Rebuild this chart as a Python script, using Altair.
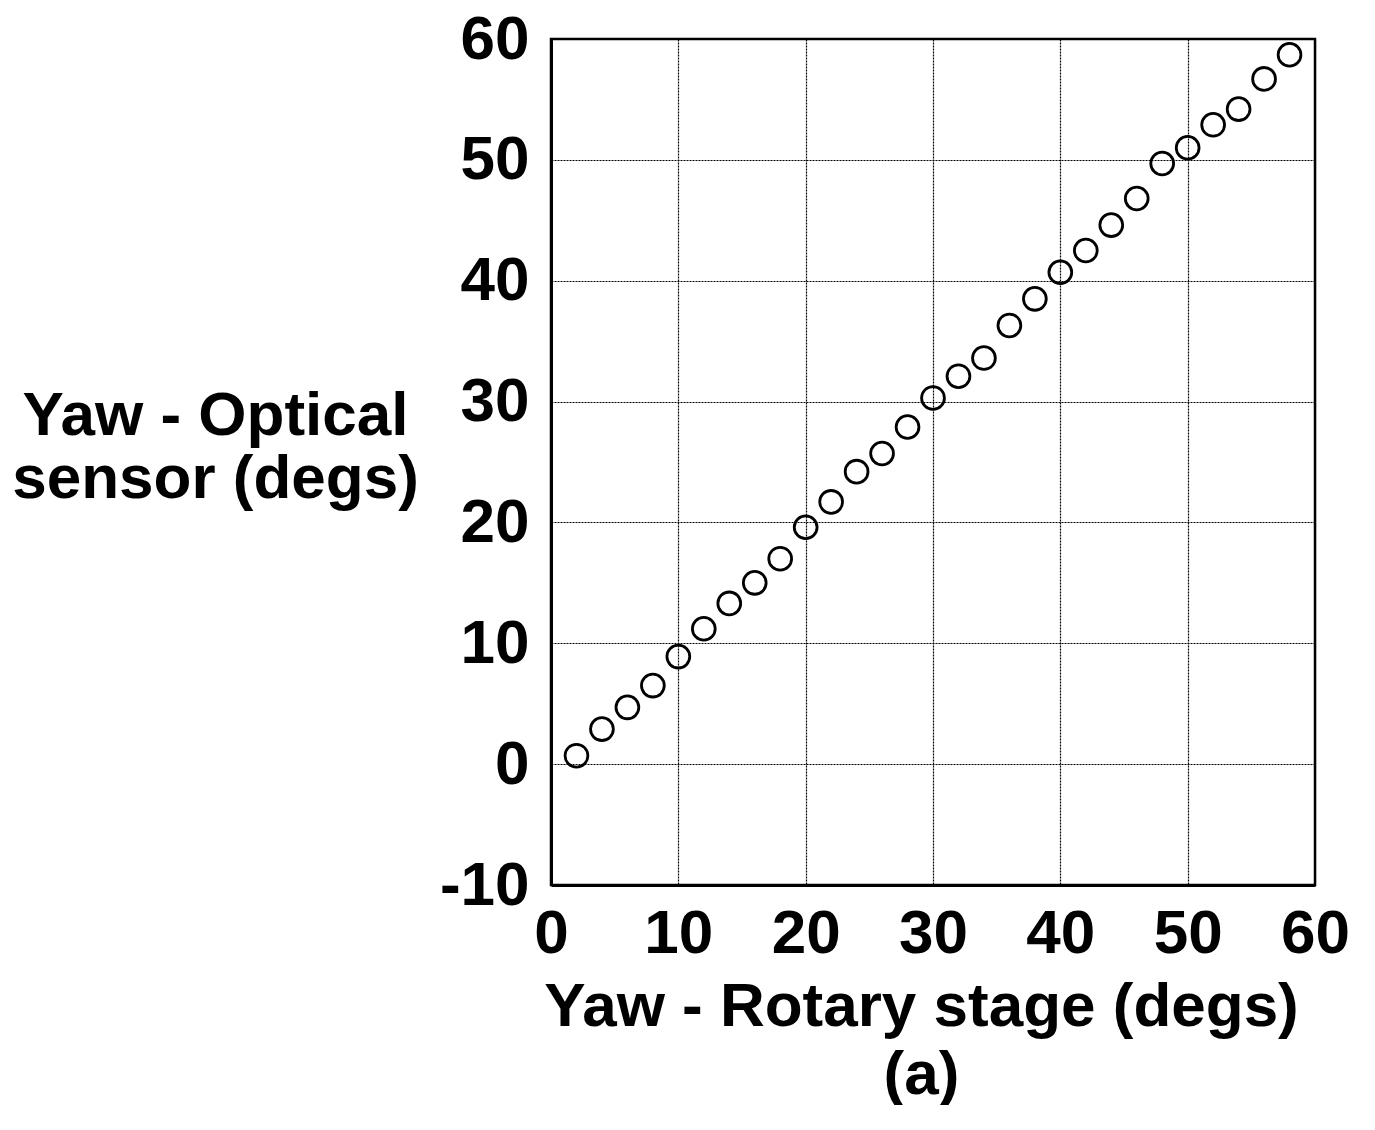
import altair as alt
import pandas as pd

rotary = [2, 4, 6, 8, 10, 12, 14, 16, 18, 20, 22, 24, 26, 28, 30,
          32, 34, 36, 38, 40, 42, 44, 46, 48, 50, 52, 54, 56, 58]
optical = [0.7, 2.9, 4.7, 6.5, 8.9, 11.2, 13.3, 15.0, 17.0, 19.6, 21.7, 24.2, 25.7, 27.9, 30.3,
           32.1, 33.6, 36.3, 38.5, 40.7, 42.5, 44.6, 46.8, 49.7, 51.0, 52.9, 54.2, 56.7, 58.7]
x_ticks = [0, 10, 20, 30, 40, 50, 60]
y_ticks = [-10, 0, 10, 20, 30, 40, 50, 60]

df = pd.DataFrame({"rotary": rotary, "optical": optical})

FONT = "Liberation Sans"

chart = alt.Chart(df).mark_point(
    shape="circle", filled=False, size=520, stroke="black", strokeWidth=2.8, opacity=1
).encode(
    x=alt.X("rotary:Q",
            scale=alt.Scale(domain=[0, 60], nice=False, zero=False),
            axis=alt.Axis(values=x_ticks, title=["Yaw - Rotary stage (degs)", "(a)"],
                          titleFontSize=62, titleFont=FONT, titleFontWeight="bold",
                          titleColor="black", titleLineHeight=68, titlePadding=12,
                          titleX=370,
                          labelFontSize=62, labelFont=FONT, labelFontWeight="bold",
                          labelColor="black", labelPadding=18, ticks=False,
                          labelExpr="toString(datum.value)",
                          domainColor="black", domainWidth=3,
                          grid=True, gridColor="black", gridDash=[2, 1], gridWidth=1.2,
                          labelFlush=False)),
    y=alt.Y("optical:Q",
            scale=alt.Scale(domain=[-10, 60], nice=False, zero=False),
            axis=alt.Axis(values=y_ticks, title=["Yaw - Optical", "sensor (degs)"],
                          titleAngle=0, titleX=-336, titleY=376, titleAlign="center",
                          titleBaseline="middle", titleFontSize=62, titleFont=FONT,
                          titleFontWeight="bold", titleColor="black", titleLineHeight=63,
                          labelFontSize=62, labelFont=FONT, labelFontWeight="bold",
                          labelColor="black", labelPadding=22, ticks=False,
                          labelExpr="toString(datum.value)",
                          domainColor="black", domainWidth=3,
                          grid=True, gridColor="black", gridDash=[2, 1], gridWidth=1.2,
                          labelFlush=False)),
).properties(
    width=764, height=846,
    autosize=alt.AutoSizeParams(type="none"),
    padding={"left": 543, "top": 31, "right": 50, "bottom": 220},
    background="white",
).configure_view(
    stroke="black", strokeWidth=2.5
)

chart.save("out.html", embed_options={"renderer": "svg", "actions": False})
